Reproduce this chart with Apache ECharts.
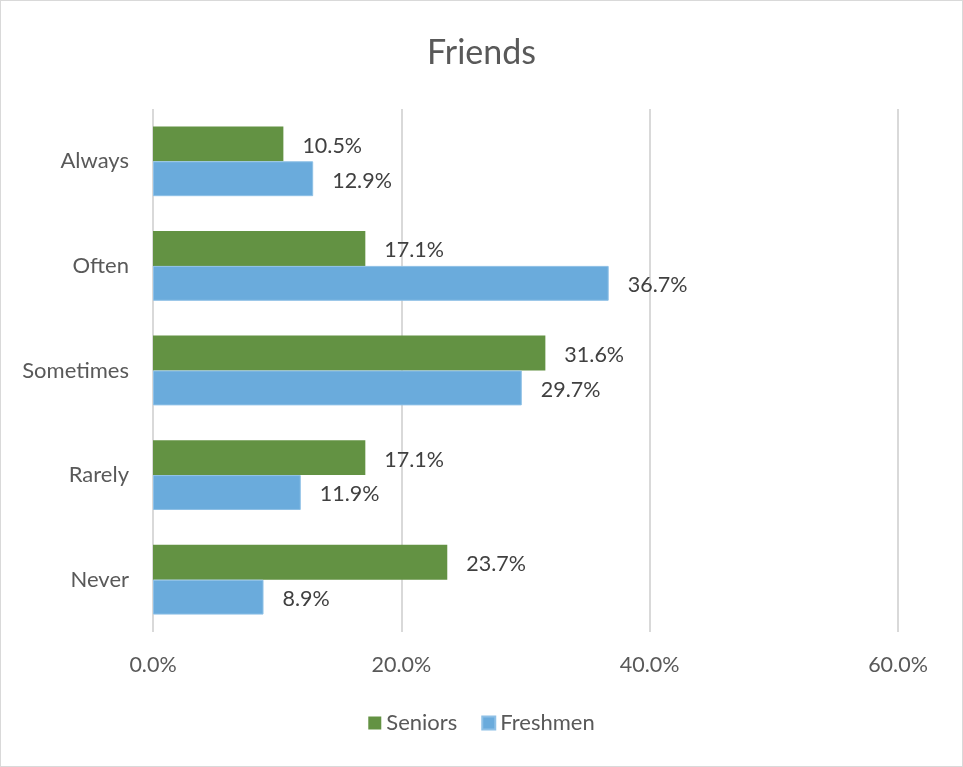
<!DOCTYPE html>
<html><head><meta charset="utf-8">
<script src="https://cdn.jsdelivr.net/npm/echarts@6/dist/echarts.min.js"></script>
<style>html,body{margin:0;padding:0;background:#fff;}#c{width:963px;height:767px;box-sizing:border-box;border:1px solid #d9d9d9;}</style>
</head><body><div id="c"></div>
<script>
const categories = ['Always', 'Often', 'Sometimes', 'Rarely', 'Never'];
const seniors = [10.5, 17.1, 31.6, 17.1, 23.7];
const freshmen = [12.9, 36.7, 29.7, 11.9, 8.9];
const xTicks = [0, 20, 40, 60];

const chart = echarts.init(document.getElementById('c'));
const font = 'Lato, "Open Sans", sans-serif';
const lbl = {show: true, position: 'right', distance: 19, fontSize: 21.5, color: '#404040', fontFamily: font,
  offset: [0, 2], formatter: p => p.value.toFixed(1) + '%'};
chart.setOption({
  animation: false,
  title: {text: 'Friends', left: 'center', top: 30, textStyle: {fontSize: 34, fontWeight: 'normal', color: '#595959', fontFamily: font}},
  legend: {bottom: 27, left: 'center', itemWidth: 13, itemHeight: 13, itemGap: 24, icon: 'rect',
    textStyle: {fontSize: 22, color: '#595959', fontFamily: font}, data: ['Seniors', 'Freshmen']},
  grid: {left: 152, right: 64, top: 108, bottom: 134, containLabel: false},
  xAxis: {type: 'value', min: 0, max: 60, interval: 20,
    axisLabel: {fontSize: 21.5, color: '#595959', fontFamily: font, margin: 22, formatter: v => v.toFixed(1) + '%'},
    splitLine: {lineStyle: {color: '#d9d9d9', width: 2}}, axisLine: {show: false}, axisTick: {show: false}},
  yAxis: {type: 'category', data: categories, inverse: true,
    axisLabel: {fontSize: 22, color: '#595959', fontFamily: font, margin: 24},
    axisLine: {show: false}, axisTick: {show: false}},
  series: [
    {name: 'Seniors', type: 'bar', data: seniors, barGap: '0%', barCategoryGap: '33.3%',
      itemStyle: {color: '#639243'}, label: lbl},
    {name: 'Freshmen', type: 'bar', data: freshmen, barGap: '0%', barCategoryGap: '33.3%',
      itemStyle: {color: '#6AABDC', borderColor: '#8EC0E6', borderWidth: 1}, label: lbl}
  ]
});
</script></body></html>
